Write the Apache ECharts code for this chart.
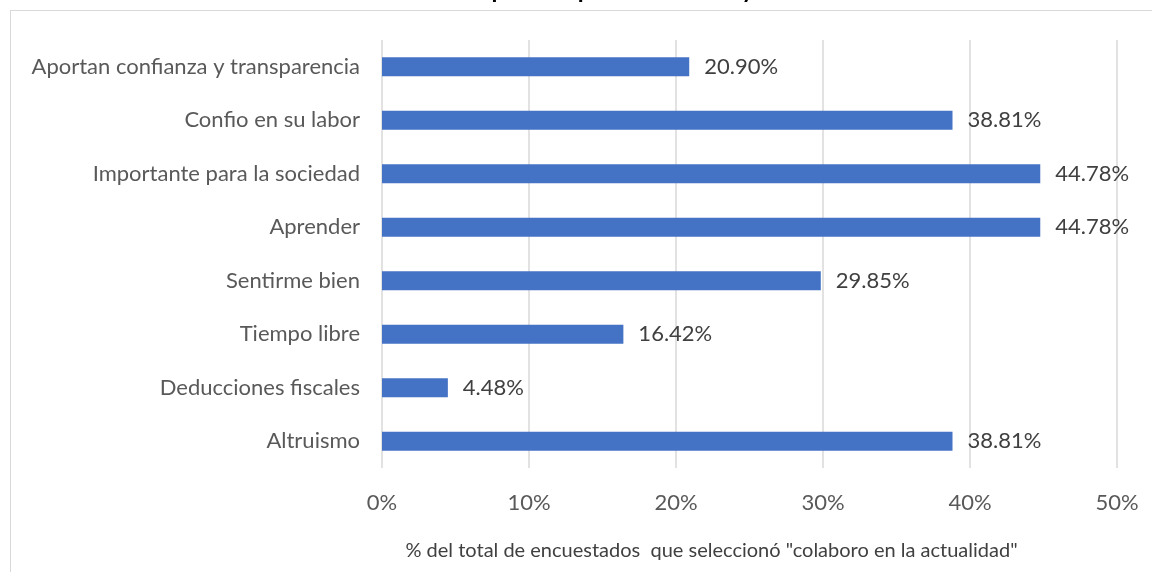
<!DOCTYPE html>
<html><head><meta charset="utf-8">
<script src="https://cdn.jsdelivr.net/npm/echarts@6/dist/echarts.min.js"></script>
<style>html,body{margin:0;padding:0;background:#fff;}#c{width:1152px;height:572px;}
#frame{position:absolute;left:10px;top:10px;width:1160px;height:600px;border:1.5px solid #d9d9d9;box-sizing:border-box;pointer-events:none;}</style>
</head><body><div id="c"></div><div id="frame"></div>
<script>
const categories = ["Altruismo","Deducciones fiscales","Tiempo libre","Sentirme bien","Aprender","Importante para la sociedad","Confio en su labor","Aportan confianza y transparencia"];
const values = [38.81, 4.48, 16.42, 29.85, 44.78, 44.78, 38.81, 20.90];
const xTicks = [0, 10, 20, 30, 40, 50];
const titleText = "Motivos por los que colaboro hoy";
const xAxisName = '% del total de encuestados  que seleccionó "colaboro en la actualidad"';
const FONT = "Lato";
const chart = echarts.init(document.getElementById('c'));
chart.setOption({
  animation:false,
  textStyle:{fontFamily:FONT},
  title:{text:titleText,left:'center',top:-27,textStyle:{fontFamily:FONT,fontSize:24,fontWeight:'bold',color:'#000'}},
  grid:{left:382,right:35,top:40,bottom:104},
  xAxis:{type:'value',min:xTicks[0],max:xTicks[xTicks.length-1],interval:10,
    axisLine:{show:false},axisTick:{show:false},
    axisLabel:{formatter:v=>v+'%',fontSize:22,color:'#595959',margin:24,fontFamily:FONT},
    splitLine:{lineStyle:{color:'#d9d9d9',width:1.5}},
    name:xAxisName,nameLocation:'middle',nameGap:73,
    nameTextStyle:{fontSize:20,color:'#404040',fontFamily:FONT,padding:[0,76,0,0]}},
  yAxis:{type:'category',data:categories,axisLine:{show:false},axisTick:{show:false},
    axisLabel:{fontSize:22,color:'#595959',margin:22,fontFamily:FONT}},
  series:[{type:'bar',data:values,barWidth:19,
    itemStyle:{color:'#4472c4'},
    label:{show:true,position:'right',distance:15,formatter:p=>p.value.toFixed(2)+'%',fontSize:22,color:'#404040',fontFamily:FONT}}]
});
</script></body></html>
